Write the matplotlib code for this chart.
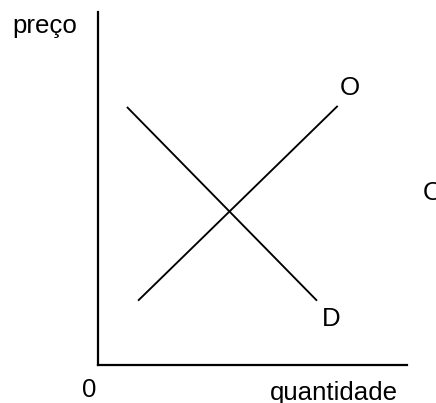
import matplotlib
matplotlib.use("Agg")
import matplotlib.pyplot as plt

plt.rcParams['font.family'] = ['Liberation Sans', 'DejaVu Sans']

# supply (O) and demand (D) lines, quantity vs price
supply_q = [1.31, 7.74]
supply_p = [1.84, 7.32]
demand_q = [0.95, 7.07]
demand_p = [7.29, 1.84]

x_max = 10
y_max = 10

fig = plt.figure(figsize=(4.36, 4.03), dpi=100)
ax = fig.add_axes([0.2255, 0.0943, 0.7073, 0.876])

ax.plot(supply_q, supply_p, color='black', linewidth=1.35)
ax.plot(demand_q, demand_p, color='black', linewidth=1.35)

ax.set_xlim(0, x_max)
ax.set_ylim(0, y_max)
for side in ['top', 'right']:
    ax.spines[side].set_visible(False)
for side in ['left', 'bottom']:
    ax.spines[side].set_linewidth(1.6)
ax.set_xticks([])
ax.set_yticks([])

fs = 18.6
ax.text(8.16, 7.85, 'O', fontsize=fs, ha='center', va='center', clip_on=False)
ax.text(7.55, 1.30, 'D', fontsize=fs, ha='center', va='center', clip_on=False)
ax.text(-0.30, -0.72, '0', fontsize=fs, ha='center', va='center', clip_on=False)
ax.text(7.64, -0.99, 'quantidade', fontsize=fs, ha='center', va='baseline', clip_on=False)
ax.text(-1.73, 9.41, 'preço', fontsize=fs, ha='center', va='baseline', clip_on=False)
ax.text(10.53, 4.87, 'O', fontsize=fs, ha='left', va='center', clip_on=False)

fig.savefig('out.png', dpi=100)
